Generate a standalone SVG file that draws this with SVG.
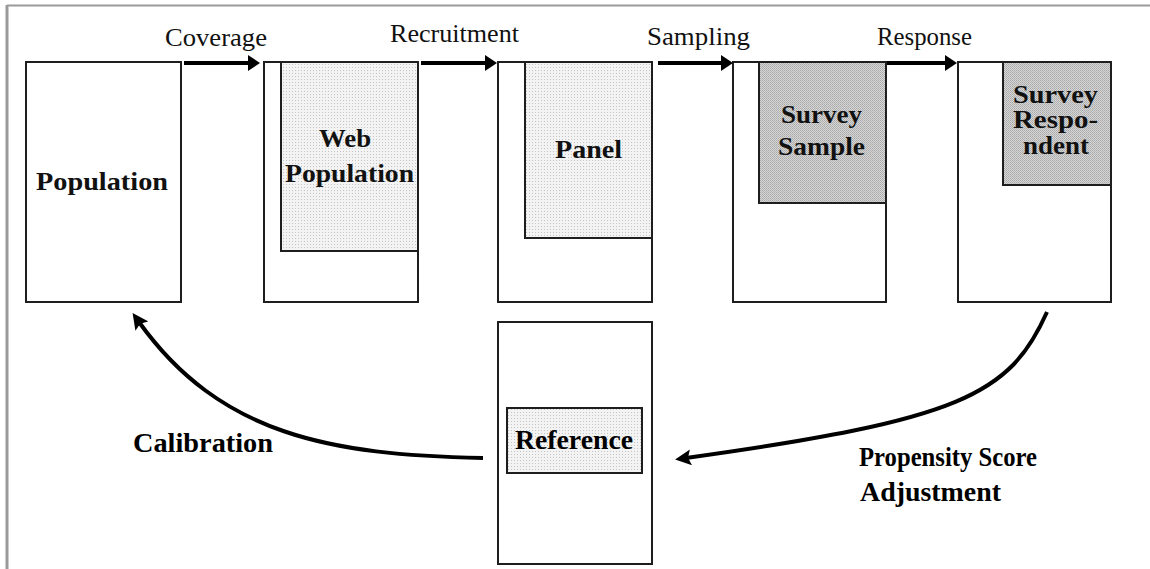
<svg xmlns="http://www.w3.org/2000/svg" width="1150" height="569" viewBox="0 0 1150 569">
  <style>
    .frame { stroke: #9a9a9a; fill: none; }
    .box { fill: #ffffff; stroke: #1e1e1e; stroke-width: 2; }
    .sub-light { fill: url(#dotsLight); stroke: #1e1e1e; stroke-width: 2; }
    .sub-dark { fill: url(#dotsDark); stroke: #1e1e1e; stroke-width: 2; }
    .step { font-family: "Liberation Serif", "Times New Roman", serif; font-size: 25px; fill: #111; }
    .name { font-family: "Liberation Serif", "Times New Roman", serif; font-size: 25px; font-weight: bold; fill: #111; }
    .method { font-family: "Liberation Serif", "Times New Roman", serif; font-size: 27px; font-weight: bold; fill: #000; }
    .flow { stroke: #000; stroke-width: 4; fill: none; }
  </style>
  <defs>
    <!-- fine dotted screen for the lighter subsets -->
    <pattern id="dotsLight" width="3" height="3" patternUnits="userSpaceOnUse">
      <rect width="3" height="3" fill="#f3f3f3"/>
      <rect x="1" y="1" width="1" height="1" fill="#c4c4c4"/>
    </pattern>
    <!-- denser screen for the survey subsets -->
    <pattern id="dotsDark" width="2" height="2" patternUnits="userSpaceOnUse">
      <rect width="2" height="2" fill="#d6d6d6"/>
      <rect width="1" height="1" fill="#a8a8a8"/>
      <rect x="1" y="1" width="1" height="1" fill="#b4b4b4"/>
    </pattern>
    <marker id="head" viewBox="0 0 12 16" markerUnits="userSpaceOnUse" markerWidth="12" markerHeight="16" refX="4" refY="8" orient="auto">
      <path d="M0,0 L12,8 L0,16 Z" fill="#000"/>
    </marker>
    <marker id="headCurve" viewBox="0 0 16 16" markerUnits="userSpaceOnUse" markerWidth="16" markerHeight="16" refX="5" refY="8" orient="auto">
      <path d="M0,0 L16,8 L0,16 L3,8 Z" fill="#000"/>
    </marker>
  </defs>

  <rect width="1150" height="569" fill="#ffffff"/>

  <!-- page frame -->
  <line class="frame" x1="7" y1="5.5" x2="1150" y2="5.5" stroke-width="2" stroke="#b0b0b0"/>
  <line class="frame" x1="7" y1="5" x2="7" y2="569" stroke-width="3" stroke="#8a8a8a"/>

  <g id="population">
    <rect class="box" x="26" y="62" width="155" height="240"/>
    <text class="name" x="36" y="190" textLength="132" lengthAdjust="spacingAndGlyphs">Population</text>
  </g>

  <g id="web-population">
    <rect class="box" x="264" y="62" width="154" height="240"/>
    <rect class="sub-light" x="281" y="62" width="137" height="189"/>
    <text class="name" x="319" y="147" textLength="52" lengthAdjust="spacingAndGlyphs">Web</text>
    <text class="name" x="285" y="182" textLength="129" lengthAdjust="spacingAndGlyphs">Population</text>
  </g>

  <g id="panel">
    <rect class="box" x="498" y="62" width="154" height="240"/>
    <rect class="sub-light" x="525" y="62" width="127" height="176"/>
    <text class="name" x="555" y="158" textLength="67" lengthAdjust="spacingAndGlyphs">Panel</text>
  </g>

  <g id="survey-sample">
    <rect class="box" x="733" y="62" width="153" height="240"/>
    <rect class="sub-dark" x="759" y="62" width="127" height="141"/>
    <text class="name" x="781" y="123" textLength="81" lengthAdjust="spacingAndGlyphs">Survey</text>
    <text class="name" x="778" y="155" textLength="87" lengthAdjust="spacingAndGlyphs">Sample</text>
  </g>

  <g id="survey-respondent">
    <rect class="box" x="958" y="62" width="153" height="240"/>
    <rect class="sub-dark" x="1003" y="62" width="108" height="123"/>
    <text class="name" x="1013" y="103" textLength="85" lengthAdjust="spacingAndGlyphs">Survey</text>
    <text class="name" x="1013" y="128" textLength="85" lengthAdjust="spacingAndGlyphs">Respo-</text>
    <text class="name" x="1023" y="154" textLength="66" lengthAdjust="spacingAndGlyphs">ndent</text>
  </g>

  <g id="reference">
    <rect class="box" x="498" y="322" width="154" height="242"/>
    <rect class="sub-light" x="507" y="408" width="135" height="65"/>
    <text class="method" x="515" y="449" textLength="118" lengthAdjust="spacingAndGlyphs">Reference</text>
  </g>

  <g id="connectors">
    <path class="flow" d="M184 63 H252" marker-end="url(#head)"/>
    <path class="flow" d="M421 63 H489" marker-end="url(#head)"/>
    <path class="flow" d="M658 63 H725" marker-end="url(#head)"/>
    <path class="flow" d="M887 63 H949" marker-end="url(#head)"/>
    <path class="flow" d="M483 458 C330 455 220 435 139 322" marker-end="url(#headCurve)"/>
    <path class="flow" d="M1047 312 C1010 395 960 420 686 458" marker-end="url(#headCurve)"/>

    <text class="step" x="165" y="46" textLength="102" lengthAdjust="spacingAndGlyphs">Coverage</text>
    <text class="step" x="390" y="42" textLength="129" lengthAdjust="spacingAndGlyphs">Recruitment</text>
    <text class="step" x="647" y="45" textLength="103" lengthAdjust="spacingAndGlyphs">Sampling</text>
    <text class="step" x="877" y="45" textLength="95" lengthAdjust="spacingAndGlyphs">Response</text>

    <text class="method" x="133" y="452" textLength="140" lengthAdjust="spacingAndGlyphs">Calibration</text>
    <text class="method" x="859" y="466" textLength="178" lengthAdjust="spacingAndGlyphs">Propensity Score</text>
    <text class="method" x="860" y="501" textLength="141" lengthAdjust="spacingAndGlyphs">Adjustment</text>
  </g>
</svg>
